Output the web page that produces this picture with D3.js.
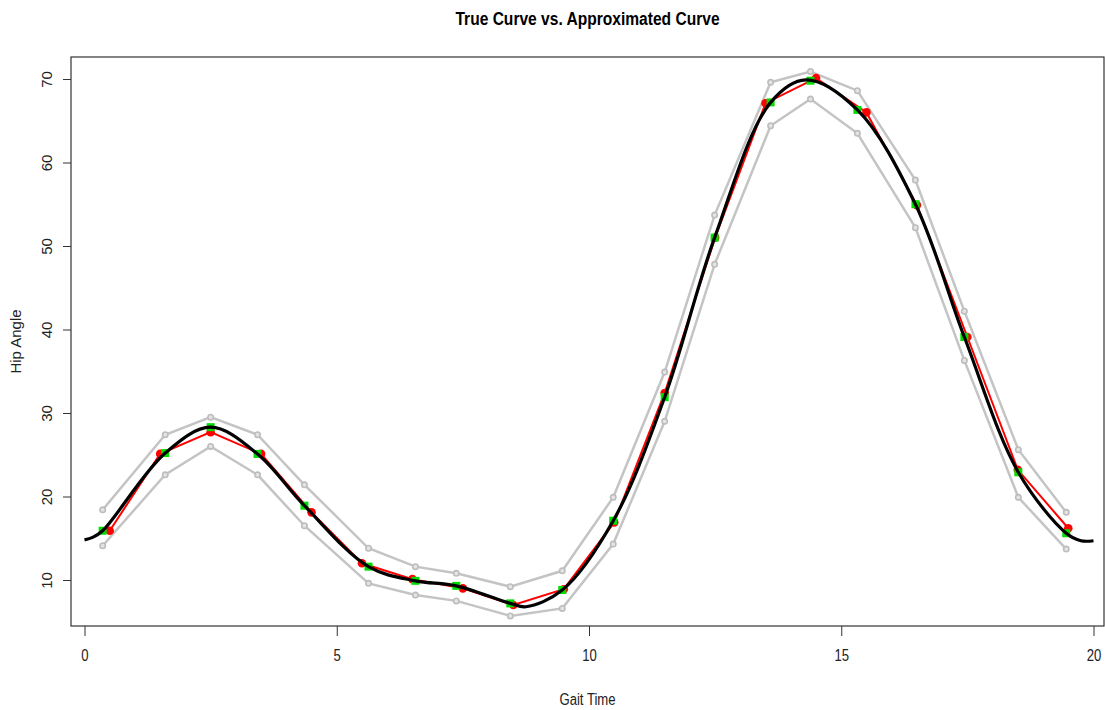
<!DOCTYPE html>
<html>
<head>
<meta charset="utf-8">
<script src="https://cdn.jsdelivr.net/npm/d3@7"></script>
<style>
  body { margin: 0; background: #fff; }
  svg { display: block; }
</style>
</head>
<body>
<svg id="chart"></svg>
<script>
// sample times of the measured points (gray bands + green true samples)
const gaitTime = [0.36, 1.6, 2.5, 3.43, 4.36, 5.63, 6.56, 7.37, 8.44, 9.47,
  10.48, 11.5, 12.49, 13.6, 14.39, 15.32, 16.47, 17.44, 18.51, 19.46];
const upperBand = [18.4, 27.4, 29.5, 27.4, 21.4, 13.8, 11.6, 10.8, 9.2, 11.1,
  19.9, 34.9, 53.7, 69.6, 70.9, 68.6, 57.9, 42.2, 25.6, 18.1];
const lowerBand = [14.1, 22.6, 26.0, 22.6, 16.5, 9.6, 8.2, 7.5, 5.7, 6.6,
  14.3, 29.0, 47.8, 64.4, 67.6, 63.5, 52.2, 36.3, 19.9, 13.7];
const trueSamples = [15.9, 25.2, 28.3, 25.1, 18.9, 11.6, 9.9, 9.3, 7.2, 8.8,
  17.1, 31.9, 51.0, 67.2, 69.8, 66.3, 55.0, 39.1, 22.9, 15.6];

// approximated curve (red)
const approxTime = [0.5, 1.5, 2.5, 3.5, 4.5, 5.5, 6.5, 7.5, 8.5, 9.5,
  10.5, 11.5, 12.5, 13.5, 14.5, 15.5, 16.5, 17.5, 18.5, 19.5];
const approxValues = [15.9, 25.1, 27.7, 25.1, 18.1, 12.0, 10.1, 9.0, 7.0, 8.9,
  16.9, 32.4, 51.0, 67.1, 70.1, 66.0, 54.9, 39.1, 23.2, 16.2];

// true curve (black)
const curveTime = [0, 0.16, 0.36, 1.6, 2.5, 3.43, 4.36, 5.63, 6.56, 7.37, 8.44, 8.75,
  9.47, 10.48, 11.5, 12.49, 13.6, 14.3, 15.32, 16.47, 17.44, 18.51, 19.46, 19.75, 20];
const curveValues = [14.8, 15.1, 15.9, 25.2, 28.3, 25.1, 18.9, 11.6, 9.9, 9.3, 7.2, 6.8,
  8.8, 17.1, 31.9, 51.0, 67.2, 69.9, 66.3, 55.0, 39.1, 22.9, 15.6, 14.7, 14.7];

const xTicks = [0, 5, 10, 15, 20];
const yTicks = [10, 20, 30, 40, 50, 60, 70];

const width = 1105, height = 710;
const box = { left: 71, right: 1104, top: 57, bottom: 626 };
const squeeze = 0.82; // horizontal text in the picture is narrowed

const svg = d3.select("#chart").attr("width", width).attr("height", height);

const x = d3.scaleLinear().domain([0, 20]).range([84.5, 1093.5]);
const y = d3.scaleLinear().domain([10, 70]).range([580, 79]);

const font = "'Liberation Sans', Arial, sans-serif";

const zip = (xs, ys) => xs.map((t, i) => [t, ys[i]]);
const line = d3.line().x((d) => x(d[0])).y((d) => y(d[1]));

// gray bands
for (const band of [upperBand, lowerBand]) {
  const pts = zip(gaitTime, band);
  svg.append("path")
    .attr("d", line(pts))
    .attr("fill", "none")
    .attr("stroke", "#c4c4c4")
    .attr("stroke-width", 2.5);
  svg.append("g").selectAll("circle")
    .data(pts)
    .join("circle")
    .attr("cx", (d) => x(d[0]))
    .attr("cy", (d) => y(d[1]))
    .attr("r", 2.7)
    .attr("fill", "#e4e4e4")
    .attr("stroke", "#bdbdbd")
    .attr("stroke-width", 1.6);
}

// red approximated curve
const approx = zip(approxTime, approxValues);
svg.append("path")
  .attr("d", line(approx))
  .attr("fill", "none")
  .attr("stroke", "#ff0000")
  .attr("stroke-width", 2);
svg.append("g").selectAll("circle")
  .data(approx)
  .join("circle")
  .attr("cx", (d) => x(d[0]))
  .attr("cy", (d) => y(d[1]))
  .attr("r", 4.3)
  .attr("fill", "#ff0000");

// green true samples
svg.append("g").selectAll("rect")
  .data(zip(gaitTime, trueSamples))
  .join("rect")
  .attr("x", (d) => x(d[0]) - 4)
  .attr("y", (d) => y(d[1]) - 4)
  .attr("width", 8)
  .attr("height", 8)
  .attr("fill", "#00dd00");

// black true curve
svg.append("path")
  .attr("d", d3.line().curve(d3.curveCatmullRom.alpha(0.5))
    .x((d) => x(d[0])).y((d) => y(d[1]))(zip(curveTime, curveValues)))
  .attr("fill", "none")
  .attr("stroke", "#000")
  .attr("stroke-width", 3.2);

// plot box
svg.append("rect")
  .attr("x", box.left)
  .attr("y", box.top)
  .attr("width", box.right - box.left)
  .attr("height", box.bottom - box.top)
  .attr("fill", "none")
  .attr("stroke", "#333")
  .attr("stroke-width", 1.2);

// x axis
const gx = svg.append("g")
  .attr("transform", `translate(0,${box.bottom})`)
  .call(d3.axisBottom(x).tickValues(xTicks).tickSize(10).tickPadding(14));
gx.select(".domain").remove();
gx.selectAll("line").attr("stroke", "#333");
gx.selectAll("text")
  .attr("font-family", font)
  .attr("font-size", 16)
  .attr("fill", "#222")
  .attr("transform", `scale(${squeeze},1)`);

// y axis (labels rotated like base R)
const gy = svg.append("g")
  .attr("transform", `translate(${box.left},0)`)
  .call(d3.axisLeft(y).tickValues(yTicks).tickSize(8).tickPadding(0));
gy.select(".domain").remove();
gy.selectAll("line").attr("stroke", "#333");
gy.selectAll("text")
  .attr("font-family", font)
  .attr("font-size", 15)
  .attr("fill", "#222")
  .attr("x", null)
  .attr("dy", null)
  .attr("text-anchor", "middle")
  .attr("transform", "translate(-19,0) rotate(-90)")
  .attr("y", 0);

// titles
const cx = (box.left + box.right) / 2;
svg.append("text")
  .attr("transform", `translate(${cx},25) scale(${squeeze},1)`)
  .attr("text-anchor", "middle")
  .attr("font-family", font)
  .attr("font-weight", "bold")
  .attr("font-size", 19)
  .text("True Curve vs. Approximated Curve");

svg.append("text")
  .attr("transform", `translate(${cx},705) scale(${squeeze},1)`)
  .attr("text-anchor", "middle")
  .attr("font-family", font)
  .attr("font-size", 16)
  .attr("fill", "#222")
  .text("Gait Time");

svg.append("text")
  .attr("transform", `translate(21,${(box.top + box.bottom) / 2}) rotate(-90)`)
  .attr("text-anchor", "middle")
  .attr("font-family", font)
  .attr("font-size", 15)
  .attr("fill", "#222")
  .text("Hip Angle");
</script>
</body>
</html>
